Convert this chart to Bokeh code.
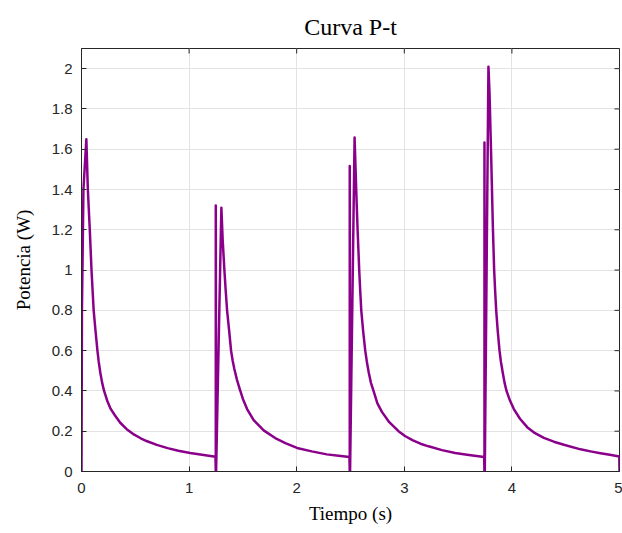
from bokeh.plotting import figure
from bokeh.models import FixedTicker, NumeralTickFormatter
from bokeh.embed import file_html
from bokeh.resources import INLINE

# Cycle 1
t1 = [0.0, 0.004, 0.018, 0.045, 0.059, 0.077, 0.093, 0.103, 0.113, 0.130, 0.148, 0.160, 0.175,
      0.192, 0.210, 0.240, 0.270, 0.310, 0.360, 0.420, 0.490, 0.550, 0.610, 0.700, 0.800, 0.900,
      1.010, 1.120, 1.245]
p1 = [0.0, 0.80, 1.40, 1.65, 1.40, 1.20, 1.00, 0.90, 0.80, 0.70, 0.60, 0.545, 0.49,
      0.44, 0.40, 0.350, 0.312, 0.279, 0.242, 0.210, 0.183, 0.165, 0.150, 0.132, 0.116, 0.103,
      0.092, 0.083, 0.073]
# Cycle 2
t2 = [1.248, 1.248, 1.251, 1.300, 1.312, 1.328, 1.340, 1.353, 1.372, 1.390, 1.405, 1.420, 1.445,
      1.470, 1.500, 1.539, 1.600, 1.693, 1.800, 1.900, 2.003, 2.140, 2.280, 2.390, 2.490]
p2 = [0.0, 1.32, 0.0, 1.31, 1.15, 1.00, 0.90, 0.80, 0.70, 0.60, 0.55, 0.51, 0.455,
      0.41, 0.36, 0.310, 0.255, 0.204, 0.166, 0.140, 0.117, 0.100, 0.085, 0.078, 0.072]
# Cycle 3
t3 = [2.493, 2.493, 2.496, 2.538, 2.553, 2.566, 2.581, 2.590, 2.600, 2.617, 2.637, 2.652, 2.670,
      2.690, 2.714, 2.750, 2.792, 2.860, 2.946, 3.010, 3.080, 3.150, 3.225, 3.350, 3.473, 3.600,
      3.742]
p3 = [0.0, 1.517, 0.0, 1.658, 1.40, 1.20, 1.00, 0.90, 0.80, 0.70, 0.60, 0.545, 0.49,
      0.44, 0.40, 0.338, 0.296, 0.245, 0.200, 0.175, 0.155, 0.138, 0.125, 0.106, 0.092, 0.082,
      0.072]
# Cycle 4
t4 = [3.745, 3.745, 3.748, 3.782, 3.792, 3.808, 3.823, 3.835, 3.844, 3.854, 3.868, 3.885, 3.898,
      3.915, 3.932, 3.950, 3.982, 4.018, 4.075, 4.142, 4.215, 4.297, 4.390, 4.483, 4.638, 4.730,
      4.823, 4.910, 4.998, 5.0]
p4 = [0.0, 1.633, 0.0, 2.01, 1.88, 1.55, 1.217, 1.00, 0.90, 0.80, 0.70, 0.60, 0.545,
      0.49, 0.44, 0.40, 0.352, 0.310, 0.262, 0.220, 0.190, 0.167, 0.148, 0.133, 0.110, 0.100,
      0.091, 0.083, 0.075, 0.0]

t_all = t1 + t2 + t3 + t4
p_all = p1 + p2 + p3 + p4

xticks = [0, 1, 2, 3, 4, 5]
yticks = [0, 0.2, 0.4, 0.6, 0.8, 1.0, 1.2, 1.4, 1.6, 1.8, 2.0]

title_text = "Curva P-t"
xlabel = "Tiempo (s)"
ylabel = "Potencia (W)"

AX = "#262626"
XMAX, YMAX = 5, 2.1

p = figure(frame_width=538, frame_height=423, x_range=(0, XMAX), y_range=(0, YMAX),
           output_backend="svg", toolbar_location=None,
           min_border_left=81, min_border_top=48, min_border_right=3,
           min_border_bottom=55, title=title_text)

p.title.text_font = "Liberation Serif"
p.title.text_font_size = "24px"
p.title.text_font_style = "normal"
p.title.align = "center"
p.title.text_color = "#000000"
p.title.standoff = 17

p.xaxis.ticker = FixedTicker(ticks=xticks)
p.yaxis.ticker = FixedTicker(ticks=yticks)
p.yaxis.formatter = NumeralTickFormatter(format="0.[0]")
p.xaxis.formatter = NumeralTickFormatter(format="0")

for ax in [p.xaxis[0], p.yaxis[0]]:
    ax.axis_line_color = AX
    ax.major_tick_line_color = AX
    ax.major_tick_in = 5
    ax.major_tick_out = 0
    ax.minor_tick_line_color = None
    ax.major_label_text_font = "Liberation Sans"
    ax.major_label_text_font_size = "15px"
    ax.major_label_text_color = AX
    ax.axis_label_text_font = "Liberation Serif"
    ax.axis_label_text_font_size = "19px"
    ax.axis_label_text_font_style = "normal"
    ax.axis_label_text_color = "#000000"

p.xaxis.axis_label = xlabel
p.yaxis.axis_label = ylabel
p.xaxis.major_label_standoff = 11
p.yaxis.major_label_standoff = 9
p.xaxis.axis_label_standoff = 7
p.yaxis.axis_label_standoff = 15

p.grid.grid_line_color = "#e3e3e3"
p.grid.grid_line_width = 1
p.outline_line_color = AX

# inward ticks on the top and right edges of the box
tick_dx = XMAX * 5 / 538
tick_dy = YMAX * 5 / 423
p.segment(x0=xticks, y0=[YMAX] * len(xticks), x1=xticks, y1=[YMAX - tick_dy] * len(xticks),
          line_color=AX, line_width=1)
p.segment(x0=[XMAX] * len(yticks), y0=yticks, x1=[XMAX - tick_dx] * len(yticks), y1=yticks,
          line_color=AX, line_width=1)

p.line(t_all, p_all, line_color="#8b008b", line_width=2.5, line_join="round")

open("out.html", "w").write(file_html(p, INLINE))
